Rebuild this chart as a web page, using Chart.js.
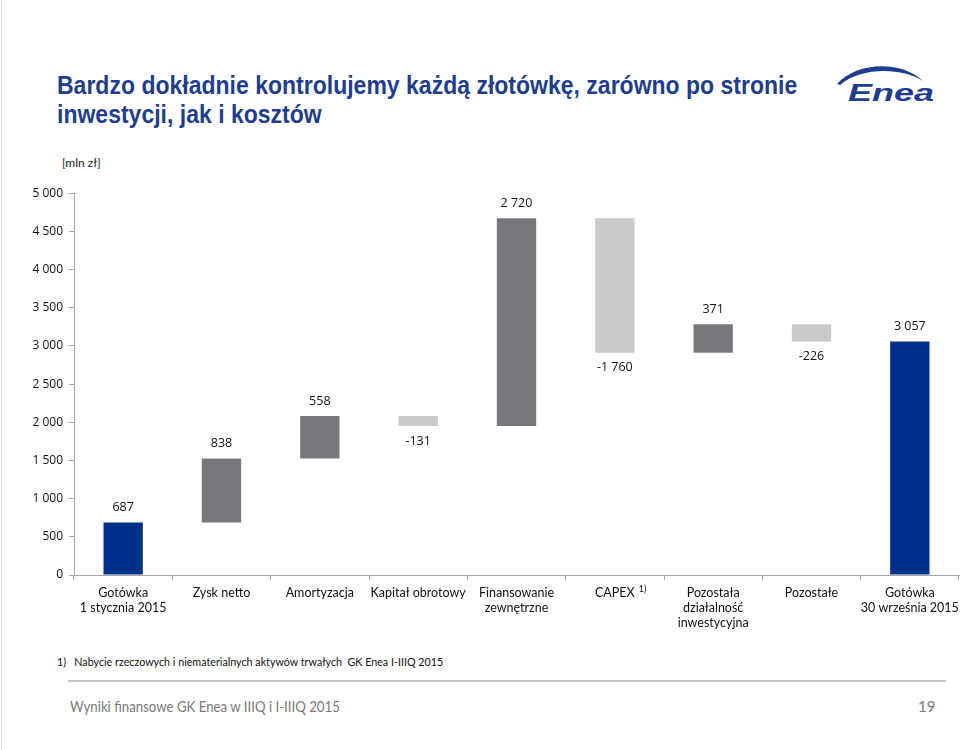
<!DOCTYPE html>
<html>
<head>
<meta charset="utf-8">
<script src="https://cdn.jsdelivr.net/npm/chart.js@4.4.1/dist/chart.umd.min.js"></script>
<style>
    body { margin: 0; width: 960px; height: 750px; background: #fff; position: relative; overflow: hidden; }
    .edge { position: absolute; left: 1px; top: 0; width: 1px; height: 750px; background: #dcdcdc; }
    .fit { position: absolute; white-space: nowrap; transform-origin: 0 0; }
    .title { left: 57px; top: 71px; font-family: "Liberation Sans", Arial, sans-serif; font-weight: bold; font-size: 25px; line-height: 29px; color: #1f3d8f; }
    .unit { position: absolute; left: 62px; top: 155px; font-family: Lato, sans-serif; font-size: 12px; color: #222; }
    .note { left: 57px; top: 654px; font-family: Lato, sans-serif; font-size: 12px; color: #111; }
    .rule { position: absolute; left: 68px; top: 680px; width: 878px; height: 2px; background: #c4c4c4; }
    .footer { left: 70px; top: 697px; font-family: Lato, sans-serif; font-size: 15px; color: #7a7a7a; }
    .page { position: absolute; left: 918px; top: 697px; font-family: Lato, sans-serif; font-size: 15px; color: #7a7a7a; }
    .logo { position: absolute; left: 830px; top: 62px; }
    #wrap { position: absolute; left: 0; top: 180px; width: 960px; height: 470px; }
</style>
</head>
<body>
<div class="edge"></div>
<div class="fit title" data-w="740">Bardzo dokładnie kontrolujemy każdą złotówkę, zarówno po stronie<br>inwestycji, jak i kosztów</div>
<svg class="logo" width="115" height="46" viewBox="0 0 115 46">
    <path d="M7 22 C 25 1, 70 -3, 93 19 C 72 5, 30 5, 10 23 Z" fill="#1f3d8f"/>
    <text x="18" y="38.7" textLength="86" lengthAdjust="spacingAndGlyphs" font-family="Liberation Sans, Arial, sans-serif" font-weight="bold" font-style="italic" font-size="23" fill="#1f3d8f">Enea</text>
</svg>
<div class="unit">[mln zł]</div>
<div id="wrap"><canvas id="chart"></canvas></div>
<div class="fit note" data-w="386">1)&nbsp;&nbsp; Nabycie rzeczowych i niematerialnych aktywów trwałych&nbsp; GK Enea I-IIIQ 2015</div>
<div class="rule"></div>
<div class="fit footer" data-w="270">Wyniki finansowe GK Enea w IIIQ i I-IIIQ 2015</div>
<div class="page">19</div>
<script>
    const categories = [
        ["Gotówka", "1 stycznia 2015"],
        "Zysk netto",
        "Amortyzacja",
        "Kapitał obrotowy",
        ["Finansowanie", "zewnętrzne"],
        "CAPEX",
        ["Pozostała", "działalność", "inwestycyjna"],
        "Pozostałe",
        ["Gotówka", "30 września 2015"]
    ];
    // footnote markers next to category labels
    const markers = ["", "", "", "", "", "1)", "", "", ""];
    // changes in mln zł; first and last are totals
    const values = [687, 838, 558, -131, 2720, -1760, 371, -226, 3057];
    const isTotal = [true, false, false, false, false, false, false, false, true];
    const yTicks = [0, 500, 1000, 1500, 2000, 2500, 3000, 3500, 4000, 4500, 5000];

    const blue = "#00318a";
    const darkGray = "#76787b";
    const lightGray = "#c9caca";
    const tickFont = { family: "Lato", size: 12.5 };

    document.querySelectorAll(".fit").forEach((el) => {
        const r = Number(el.dataset.w) / el.scrollWidth;
        el.style.transform = `scaleX(${r})`;
    });

    let running = 0;
    const ranges = values.map((v, i) => {
        if (isTotal[i]) {
            running = v;
            return [0, v];
        }
        const start = running;
        running += v;
        return [start, running];
    });
    const colors = values.map((v, i) => isTotal[i] ? blue : (v >= 0 ? darkGray : lightGray));

    const fmt = (n) => {
        const s = Math.abs(n).toString().replace(/\B(?=(\d{3})+(?!\d))/g, " ");
        return (n < 0 ? "-" : "") + s;
    };

    const valueLabels = {
        id: "valueLabels",
        afterDatasetsDraw(chart) {
            const ctx = chart.ctx;
            const meta = chart.getDatasetMeta(0);
            ctx.save();
            ctx.font = "12.5px 'Open Sans', sans-serif";
            ctx.fillStyle = "#111";
            ctx.textAlign = "center";
            ctx.textBaseline = "middle";
            meta.data.forEach((bar, i) => {
                const top = Math.min(bar.y, bar.base);
                const bottom = Math.max(bar.y, bar.base);
                const y = values[i] >= 0 ? top - 15 : bottom + 15;
                ctx.fillText(fmt(values[i]), bar.x, y);
            });

            // superscript footnote markers on category labels
            const xs = chart.scales.x;
            markers.forEach((m, i) => {
                if (!m) return;
                ctx.font = `${tickFont.size}px ${tickFont.family}`;
                const w = ctx.measureText(categories[i]).width;
                ctx.font = `9px ${tickFont.family}`;
                ctx.textAlign = "left";
                ctx.fillText(m, xs.getPixelForTick(i) + w / 2 + 4, xs.top + 14);
            });
            ctx.restore();
        }
    };

    new Chart(document.getElementById("chart"), {
        type: "bar",
        data: {
            labels: categories,
            datasets: [{
                data: ranges,
                backgroundColor: colors,
                borderWidth: 0,
                barPercentage: 0.4,
                categoryPercentage: 1
            }]
        },
        options: {
            responsive: true,
            maintainAspectRatio: false,
            animation: false,
            layout: { padding: { top: 13, right: 1, left: 0, bottom: 0 } },
            plugins: {
                legend: { display: false },
                tooltip: { enabled: false }
            },
            scales: {
                x: {
                    afterFit: (scale) => {
                        scale.height = 75;
                        scale.paddingLeft = 0;
                        scale.paddingRight = 0;
                    },
                    grid: { drawOnChartArea: false, offset: true, tickLength: 5, color: "#a6a6a6" },
                    border: { color: "#a6a6a6" },
                    ticks: {
                        color: "#111",
                        font: tickFont,
                        maxRotation: 0,
                        autoSkip: false,
                        padding: 5
                    }
                },
                y: {
                    min: 0,
                    max: 5000,
                    afterFit: (scale) => { scale.width = 74; },
                    afterBuildTicks: (scale) => { scale.ticks = yTicks.map((v) => ({ value: v })); },
                    grid: { drawOnChartArea: false, tickLength: 5, color: "#a6a6a6" },
                    border: { color: "#a6a6a6" },
                    ticks: {
                        color: "#111",
                        font: { family: "Open Sans", size: 12 },
                        padding: 6,
                        callback: (v) => fmt(v)
                    }
                }
            }
        },
        plugins: [valueLabels]
    });
</script>
</body>
</html>
